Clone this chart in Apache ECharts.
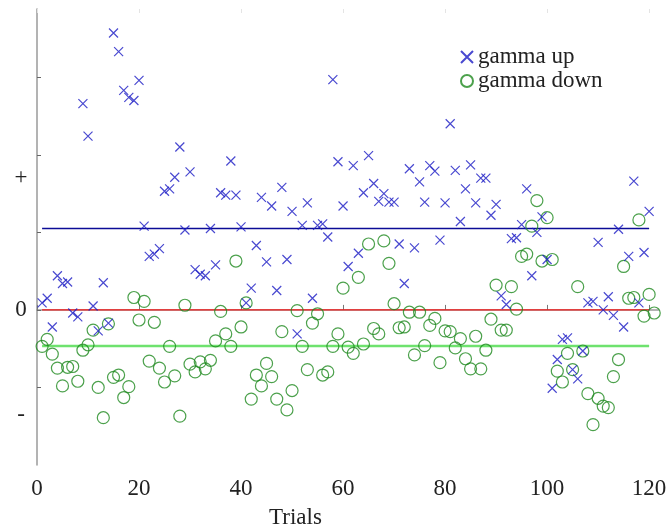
<!DOCTYPE html>
<html>
<head>
<meta charset="utf-8">
<script src="https://cdn.jsdelivr.net/npm/echarts@6/dist/echarts.min.js"></script>
<style>
  html, body { margin: 0; padding: 0; background: #fff; }
  #chart { width: 672px; height: 527px; }
</style>
</head>
<body>
<div id="chart"></div>
<script>
// Per-trial responses
const gammaUp = [
  0.09, 0.15, -0.22, 0.44, 0.34, 0.36, -0.04, -0.09, 2.66, 2.24,
  0.05, -0.27, 0.35, -0.17, 3.57, 3.33, 2.83, 2.74, 2.70, 2.96,
  1.08, 0.69, 0.72, 0.79, 1.53, 1.56, 1.71, 2.10, 1.03, 1.78,
  0.52, 0.46, 0.44, 1.05, 0.58, 1.51, 1.48, 1.92, 1.48, 1.07,
  0.09, 0.28, 0.83, 1.45, 0.62, 1.34, 0.25, 1.58, 0.65, 1.27,
  -0.31, 1.09, 1.38, 0.15, 1.09, 1.11, 0.94, 2.97, 1.91, 1.34,
  0.56, 1.86, 0.73, 1.51, 1.99, 1.63, 1.40, 1.50, 1.39, 1.39,
  0.85, 0.34, 1.82, 0.80, 1.65, 1.39, 1.86, 1.79, 0.90, 1.38,
  2.40, 1.80, 1.14, 1.56, 1.87, 1.38, 1.70, 1.70, 1.22, 1.36,
  0.18, 0.07, 0.92, 0.93, 1.10, 1.56, 0.44, 1.00, 1.20, 0.65,
  -1.01, -0.64, -0.38, -0.36, -0.77, -0.89, -0.53, 0.09, 0.11, 0.87,
  0.00, 0.17, -0.07, 1.04, -0.22, 0.69, 1.66, 0.09, 0.74, 1.27
];
const gammaDown = [
  -0.47, -0.38, -0.57, -0.75, -0.98, -0.74, -0.73, -0.92, -0.52, -0.45,
  -0.26, -1.00, -1.39, -0.18, -0.87, -0.84, -1.13, -0.99, 0.16, -0.13,
  0.11, -0.66, -0.16, -0.75, -0.93, -0.47, -0.85, -1.37, 0.06, -0.70,
  -0.80, -0.67, -0.76, -0.65, -0.40, -0.02, -0.31, -0.47, 0.63, -0.22,
  0.09, -1.15, -0.84, -0.98, -0.69, -0.86, -1.15, -0.28, -1.29, -1.04,
  -0.01, -0.47, -0.77, -0.17, -0.05, -0.84, -0.80, -0.47, -0.31, 0.28,
  -0.48, -0.56, 0.42, -0.44, 0.85, -0.24, -0.31, 0.89, 0.60, 0.08,
  -0.23, -0.22, -0.03, -0.58, -0.03, -0.46, -0.20, -0.11, -0.68, -0.27,
  -0.28, -0.49, -0.37, -0.63, -0.76, -0.34, -0.76, -0.52, -0.12, 0.32,
  -0.26, -0.26, 0.30, 0.01, 0.69, 0.72, 1.08, 1.41, 0.63, 1.19,
  0.65, -0.79, -0.93, -0.56, -0.77, 0.30, -0.53, -1.08, -1.48, -1.14,
  -1.24, -1.26, -0.86, -0.64, 0.56, 0.15, 0.16, 1.16, -0.08, 0.20, -0.04
];

// Reference levels drawn across the trials
const levelUp = 1.05;
const levelZero = 0;
const levelDown = -0.465;
const levelSpan = [1, 120];

// Axes
const xTicks = [0, 20, 40, 60, 80, 100, 120];
const yTicks = [-1, 0, 1, 2, 3];
const yLabelValues = [1.7, 0, -1.35];
const yLabelTexts = ['+', '0', '-'];

const FONT = '"Liberation Serif", "DejaVu Serif", serif';

const toPoints = arr => arr.map((v, i) => [i + 1, v]);
const levelLine = v => levelSpan.map(x => [x, v]);

const chart = echarts.init(document.getElementById('chart'), null, { renderer: 'canvas' });

const option = {
  backgroundColor: '#ffffff',
  animation: false,
  title: {
    text: 'Trials',
    left: 264,
    top: 501,
    textStyle: { fontFamily: FONT, fontSize: 23, fontWeight: 'normal', color: '#222' }
  },
  legend: {
    orient: 'vertical',
    left: 455,
    top: 40,
    itemWidth: 12,
    itemHeight: 12,
    itemGap: 0,
    textStyle: { fontFamily: FONT, fontSize: 23, color: '#222', lineHeight: 24 },
    data: ['gamma up', 'gamma down']
  },
  grid: { left: 37, right: 13.7, top: 9, bottom: 62 },
  xAxis: [{
    type: 'value',
    min: 0,
    max: 121.8,
    splitLine: { show: false },
    axisLine: { show: true, lineStyle: { color: '#9a9a9a', width: 1.5 } },
    axisTick: { show: true, inside: true, length: 5, customValues: xTicks, lineStyle: { color: '#777' } },
    axisLabel: {
      customValues: xTicks,
      margin: 12,
      fontFamily: FONT, fontSize: 23, color: '#222'
    }
  }, {
    type: 'value',
    position: 'top',
    min: 0,
    max: 121.8,
    splitLine: { show: false },
    axisLine: { show: false },
    axisTick: { show: true, inside: true, length: 4, customValues: xTicks, lineStyle: { color: '#e4e4e4' } },
    axisLabel: { show: false }
  }],
  yAxis: {
    type: 'value',
    min: -2,
    max: 3.88,
    splitLine: { show: false },
    axisLine: { show: true, lineStyle: { color: '#9a9a9a', width: 1.5 } },
    axisTick: { show: true, inside: true, length: 4, customValues: yTicks, lineStyle: { color: '#666' } },
    axisLabel: {
      customValues: yLabelValues,
      align: 'center',
      margin: 16,
      fontFamily: FONT, fontSize: 23, color: '#222',
      formatter: v => {
        const i = yLabelValues.indexOf(v);
        return i >= 0 ? yLabelTexts[i] : '';
      }
    }
  },
  series: [
    {
      name: 'up level', type: 'line', data: levelLine(levelUp), symbol: 'none',
      lineStyle: { color: '#0c0c96', width: 1.4 }, silent: true, z: 1
    },
    {
      name: 'zero level', type: 'line', data: levelLine(levelZero), symbol: 'none',
      lineStyle: { color: '#f01818', width: 1.4 }, silent: true, z: 1
    },
    {
      name: 'down level', type: 'line', data: levelLine(levelDown), symbol: 'none',
      lineStyle: { color: '#6ee26e', width: 2.6 }, silent: true, z: 1
    },
    {
      name: 'gamma up', type: 'scatter', data: toPoints(gammaUp),
      symbol: 'path://M0,0L10,10M10,0L0,10', symbolSize: 9,
      itemStyle: { color: 'rgba(0,0,0,0)', borderColor: '#1c1cc4', borderWidth: 1.2 },
      z: 3
    },
    {
      name: 'gamma down', type: 'scatter', data: toPoints(gammaDown),
      symbol: 'circle', symbolSize: 12,
      itemStyle: { color: 'rgba(0,0,0,0)', borderColor: '#1f8a1f', borderWidth: 1.2 },
      z: 2
    }
  ]
};

chart.setOption(option);
</script>
</body>
</html>
